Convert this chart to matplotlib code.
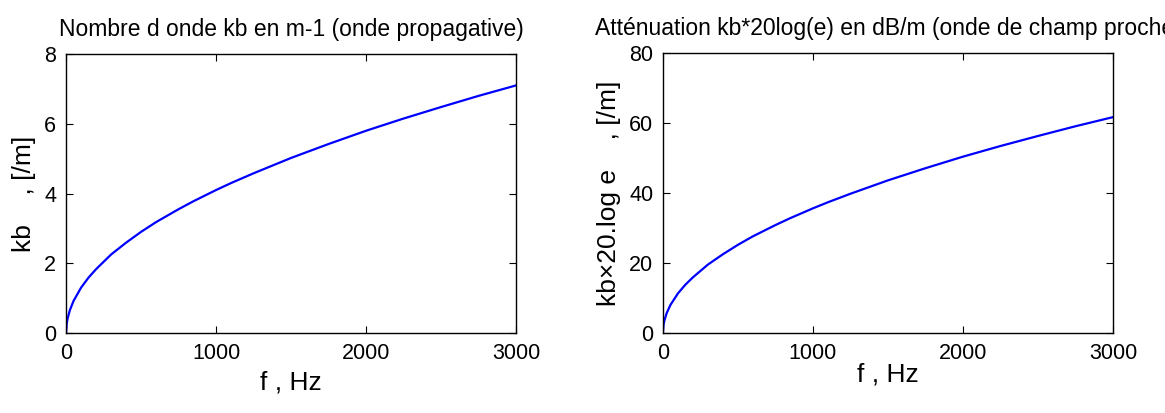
import numpy as np
import matplotlib.pyplot as plt

plt.rcParams['font.family'] = ['Liberation Sans', 'DejaVu Sans']

# frequence (Hz) et nombre d onde kb (m-1)
f = [0, 5, 10, 25, 50, 100, 150, 200, 300, 400, 500, 600, 750, 850, 1000,
     1100, 1250, 1500, 1750, 2000, 2250, 2500, 2750, 3000]
kb = [0.0, 0.29, 0.41, 0.65, 0.92, 1.30, 1.59, 1.83, 2.25, 2.59, 2.90, 3.18,
      3.55, 3.78, 4.10, 4.30, 4.58, 5.02, 5.42, 5.80, 6.15, 6.48, 6.80, 7.10]

att = np.array(kb) * 20 * np.log10(np.e)

titres = ['Nombre d onde kb en m-1 (onde propagative)',
          'Atténuation kb*20log(e) en dB/m (onde de champ proche)']
ylabels = ['kb    , [/m]', 'kb×20.log e    , [/m]']


def graficar(ax, x, y, ymax, yticks, titre, ylab, xlab_pad):
    ax.plot(x, y, color='#0000ff', lw=1.6)
    ax.set_xlim(0, 3000)
    ax.set_ylim(0, ymax)
    ax.set_xticks([0, 1000, 2000, 3000])
    ax.set_yticks(yticks)
    ax.tick_params(direction='in', top=True, right=True, length=5,
                   labelsize=15.5, pad=7)
    for s in ax.spines.values():
        s.set_linewidth(1.0)
    ax.set_title(titre, fontsize=16.5, pad=13)
    ax.set_ylabel(ylab, fontsize=19, labelpad=6)
    ax.set_xlabel('f , Hz', fontsize=19, labelpad=xlab_pad)


fig = plt.figure(figsize=(11.65, 4.13), dpi=100)
ax1 = fig.add_axes([0.0567, 0.1937, 0.3863, 0.6755])
ax2 = fig.add_axes([0.569, 0.1937, 0.3863, 0.6780])

graficar(ax1, f, kb, 8, [0, 2, 4, 6, 8], titres[0], ylabels[0], 5)
graficar(ax2, f, att, 80, [0, 20, 40, 60, 80], titres[1], ylabels[1], -1)

fig.savefig('out.png', dpi=100)
